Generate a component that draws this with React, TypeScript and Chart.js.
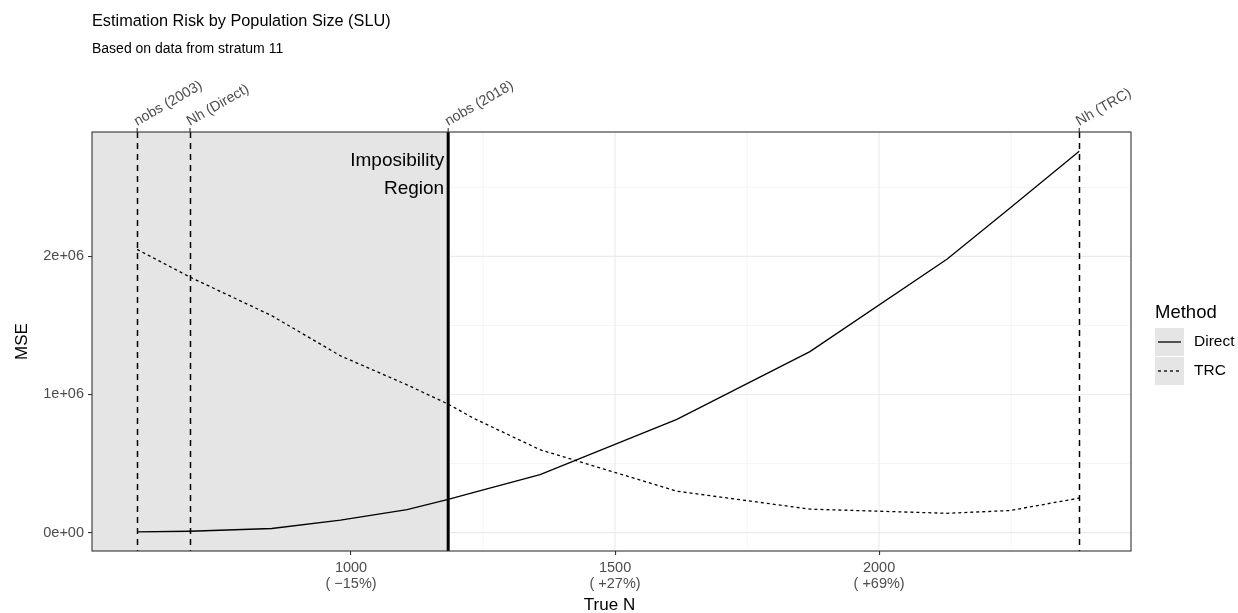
import React, { useEffect, useRef } from "react";
import { Chart, registerables } from "chart.js";

Chart.register(...registerables);

// ---- data ----
const trueN = [595, 695, 850, 980, 1106, 1184, 1231, 1358, 1617, 1869, 2129, 2248, 2379];
const mseDirect = [5000, 10000, 30000, 90000, 167000, 240000, 290000, 420000, 820000, 1310000, 1980000, 2350000, 2760000];
const mseTRC = [2050000, 1850000, 1570000, 1280000, 1070000, 930000, 830000, 600000, 300000, 170000, 140000, 160000, 250000];

const refX = [595, 695, 1184, 2379];
const refLabels = ["nobs (2003)", "Nh (Direct)", "nobs (2018)", "Nh (TRC)"];
const impossibleUpTo = 1184;

const xTicks = [1000, 1500, 2000];
const xTickLabels = [["1000", "( \u221215%)"], ["1500", "( +27%)"], ["2000", "( +69%)"]];
const xMinor = [750, 1250, 1750, 2250];
const yTicks = [0, 1000000, 2000000];
const yTickLabels = ["0e+00", "1e+06", "2e+06"];
const yMinor = [500000, 1500000, 2500000];

const titleText = "Estimation Risk by Population Size (SLU)";
const subtitleText = "Based on data from stratum 11";
const xTitle = "True N";
const yTitle = "MSE";
const legendTitle = "Method";
const seriesNames = ["Direct", "TRC"];
const regionLabel = ["Imposibility", "Region"];

const FONT = '"Liberation Sans", Arial, Helvetica, sans-serif';

const W = 1238;
const H = 613;
const PL = 92, PR = 1131, PT = 132, PB = 551;

const decorPlugin = {
  id: "decor",
  beforeDatasetsDraw(chart: any) {
    const { ctx, scales } = chart;
    const xs = scales.x, ys = scales.y;
    ctx.save();
    ctx.fillStyle = "#FFFFFF";
    ctx.fillRect(PL, PT, PR - PL, PB - PT);
    ctx.strokeStyle = "#EBEBEB";
    ctx.lineWidth = 0.55;
    xMinor.forEach((v) => {
      const px = xs.getPixelForValue(v);
      ctx.beginPath(); ctx.moveTo(px, PT); ctx.lineTo(px, PB); ctx.stroke();
    });
    yMinor.forEach((v) => {
      const py = ys.getPixelForValue(v);
      ctx.beginPath(); ctx.moveTo(PL, py); ctx.lineTo(PR, py); ctx.stroke();
    });
    ctx.lineWidth = 1.1;
    xTicks.forEach((v) => {
      const px = xs.getPixelForValue(v);
      ctx.beginPath(); ctx.moveTo(px, PT); ctx.lineTo(px, PB); ctx.stroke();
    });
    yTicks.forEach((v) => {
      const py = ys.getPixelForValue(v);
      ctx.beginPath(); ctx.moveTo(PL, py); ctx.lineTo(PR, py); ctx.stroke();
    });
    const rx = xs.getPixelForValue(impossibleUpTo);
    ctx.fillStyle = "#E5E5E5";
    ctx.fillRect(PL, PT, rx - PL, PB - PT);
    ctx.restore();
  },
  afterDatasetsDraw(chart: any) {
    const { ctx, scales } = chart;
    const xs = scales.x;
    ctx.save();
    ctx.strokeStyle = "#000000";
    ctx.lineWidth = 1.5;
    ctx.setLineDash([6, 5]);
    refX.forEach((v) => {
      if (v === impossibleUpTo) return;
      const px = Math.round(xs.getPixelForValue(v)) + 0.5;
      ctx.beginPath(); ctx.moveTo(px, PT); ctx.lineTo(px, PB); ctx.stroke();
    });
    ctx.setLineDash([]);
    const bx = xs.getPixelForValue(impossibleUpTo);
    ctx.lineWidth = 3;
    ctx.beginPath(); ctx.moveTo(bx, PT); ctx.lineTo(bx, PB); ctx.stroke();
    ctx.fillStyle = "#000000";
    ctx.font = `19px ${FONT}`;
    ctx.textAlign = "right";
    ctx.textBaseline = "alphabetic";
    ctx.fillText(regionLabel[0], bx - 4, 166);
    ctx.fillText(regionLabel[1], bx - 4, 194);
    ctx.strokeStyle = "#333333";
    ctx.lineWidth = 1.1;
    ctx.strokeRect(PL, PT, PR - PL, PB - PT);
    refX.forEach((v, i) => {
      const px = xs.getPixelForValue(v);
      ctx.strokeStyle = "#333333";
      ctx.lineWidth = 1.1;
      ctx.beginPath(); ctx.moveTo(px, PT - 4); ctx.lineTo(px, PT); ctx.stroke();
      ctx.save();
      ctx.translate(px, PT - 6);
      ctx.rotate(-Math.PI / 6);
      ctx.fillStyle = "#4D4D4D";
      ctx.font = `14.3px ${FONT}`;
      ctx.textAlign = "left";
      ctx.textBaseline = "alphabetic";
      ctx.fillText(refLabels[i], 0, 0);
      ctx.restore();
    });
    ctx.restore();
  },
  afterDraw(chart: any) {
    const { ctx } = chart;
    ctx.save();
    ctx.fillStyle = "#000000";
    ctx.textAlign = "left";
    ctx.textBaseline = "alphabetic";
    ctx.font = `16.3px ${FONT}`;
    ctx.fillText(titleText, PL, 26);
    ctx.font = `14px ${FONT}`;
    ctx.fillText(subtitleText, PL, 53);
    ctx.font = `17px ${FONT}`;
    ctx.textAlign = "center";
    ctx.textBaseline = "middle";
    ctx.fillText(xTitle, (PL + PR) / 2 - 2, 605);
    ctx.save();
    ctx.translate(22, (PT + PB) / 2);
    ctx.rotate(-Math.PI / 2);
    ctx.fillText(yTitle, 0, 0);
    ctx.restore();
    ctx.textAlign = "left";
    ctx.font = `18.5px ${FONT}`;
    ctx.fillText(legendTitle, 1155, 313);
    const keyY = [342, 371];
    const dashes = [[], [3, 3]];
    keyY.forEach((ky, i) => {
      ctx.fillStyle = "#E5E5E5";
      ctx.fillRect(1155, ky - 14, 29, 28);
      ctx.strokeStyle = "#000000";
      ctx.lineWidth = 1.3;
      ctx.setLineDash(dashes[i]);
      ctx.beginPath(); ctx.moveTo(1158, ky); ctx.lineTo(1181, ky); ctx.stroke();
      ctx.setLineDash([]);
      ctx.fillStyle = "#000000";
      ctx.font = `15.5px ${FONT}`;
      ctx.fillText(seriesNames[i], 1194, ky);
    });
    ctx.restore();
  },
};

export default function App() {
  const ref = useRef<HTMLCanvasElement | null>(null);
  useEffect(() => {
    if (!ref.current) return;
    const chart = new Chart(ref.current, {
      type: "line",
      data: {
        datasets: [
          {
            label: seriesNames[0],
            data: trueN.map((x, i) => ({ x, y: mseDirect[i] })),
            borderColor: "#000000",
            borderWidth: 1.3,
            pointRadius: 0,
            tension: 0,
          },
          {
            label: seriesNames[1],
            data: trueN.map((x, i) => ({ x, y: mseTRC[i] })),
            borderColor: "#000000",
            borderWidth: 1.3,
            borderDash: [3, 3],
            pointRadius: 0,
            tension: 0,
          },
        ],
      },
      options: {
        animation: false,
        responsive: false,
        devicePixelRatio: 1,
        layout: { padding: { left: 0, right: W - PR, top: PT, bottom: 0 } },
        plugins: { legend: { display: false }, title: { display: false }, tooltip: { enabled: false } },
        scales: {
          x: {
            type: "linear",
            min: 509.5,
            max: 2477,
            afterBuildTicks: (s: any) => { s.ticks = xTicks.map((v) => ({ value: v })); },
            afterFit: (s: any) => { s.height = H - PB; },
            ticks: {
              callback: (v: any) => {
                const i = xTicks.indexOf(Number(v));
                return i >= 0 ? xTickLabels[i] : "";
              },
              color: "#4D4D4D",
              font: { family: FONT, size: 14.5, lineHeight: 1.1 },
              padding: 5,
              maxRotation: 0,
              autoSkip: false,
            },
            grid: { display: true, drawOnChartArea: false, drawTicks: true, tickLength: 4, color: "#333333", lineWidth: 1.1 },
            border: { display: false },
          },
          y: {
            type: "linear",
            min: -133000,
            max: 2900000,
            afterBuildTicks: (s: any) => { s.ticks = yTicks.map((v) => ({ value: v })); },
            afterFit: (s: any) => { s.width = PL; },
            ticks: {
              callback: (v: any) => {
                const i = yTicks.indexOf(Number(v));
                return i >= 0 ? yTickLabels[i] : "";
              },
              color: "#4D4D4D",
              font: { family: FONT, size: 14.5 },
              padding: 4,
              autoSkip: false,
            },
            grid: { display: true, drawOnChartArea: false, drawTicks: true, tickLength: 4, color: "#333333", lineWidth: 1.1 },
            border: { display: false },
          },
        },
      },
      plugins: [decorPlugin],
    });
    return () => chart.destroy();
  }, []);
  return (
    <div style={{ position: "absolute", left: 0, top: 0, width: W, height: H, background: "#FFFFFF" }}>
      <canvas ref={ref} width={W} height={H} style={{ display: "block" }} />
    </div>
  );
}
